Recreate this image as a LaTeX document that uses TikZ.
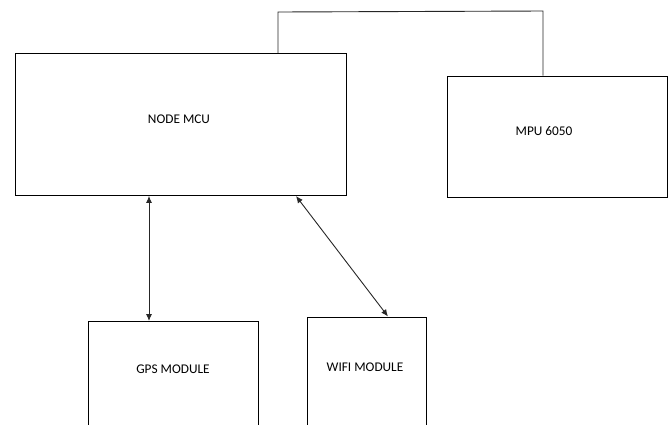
\documentclass[tikz,border=0pt]{standalone}
\usepackage{fontspec}
\setmainfont{Carlito}
\usetikzlibrary{arrows.meta,calc}
\begin{document}
\begin{tikzpicture}[x=1pt,y=-1pt,
  box/.style={draw=black,line width=0.9pt,inner sep=0pt,anchor=north west},
  lbl/.style={font=\fontsize{13.3}{15}\selectfont,inner sep=0pt},
  wire/.style={draw=black!85,line width=0.9pt},
  biarrow/.style={draw=black!85,line width=0.9pt,{Latex[length=7pt,width=6pt]}-{Latex[length=7pt,width=6pt]}}]
\useasboundingbox (0,0) rectangle (670,424);
\clip (0,0) rectangle (670,424);
% boxes
\node[box,minimum width=331pt,minimum height=142pt] (mcu) at (14.5,53) {};
\node[box,minimum width=220pt,minimum height=121pt] (mpu) at (447,75.5) {};
\node[box,minimum width=170pt,minimum height=130pt] (gps) at (88,321) {};
\node[box,minimum width=119pt,minimum height=130pt] (wifi) at (307,317) {};
% labels
\node[lbl] (tmcu) at (179,119) {NODE MCU};
\node[lbl] (tmpu) at (544,131) {MPU 6050};
\node[lbl] (tgps) at (173,369) {GPS MODULE};
\node[lbl] (twifi) at (365,367) {WIFI MODULE};
% top connector
\coordinate (tl) at (278,12);
\coordinate (tr) at (543,11);
\draw[wire] (mcu.north -| tl) -- (tl) -- (tr) -- (mpu.north -| tr);
% arrows
\coordinate (ga) at (149,0);
\draw[biarrow] (mcu.south -| ga) -- (gps.north -| ga);
\coordinate (wa1) at (296,196);
\coordinate (wa2) at (388,316.5);
\draw[biarrow] (wa1) -- (wa2);
\end{tikzpicture}
\end{document}
